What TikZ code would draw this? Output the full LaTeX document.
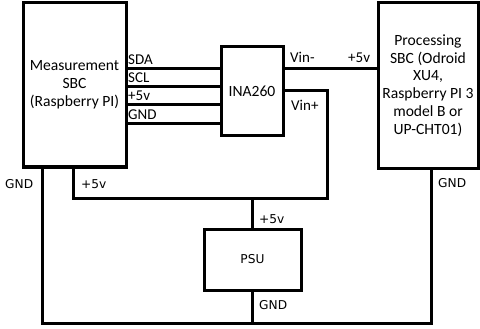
\documentclass[tikz,border=0pt]{standalone}
\usepackage{fontspec}
\setmainfont{Carlito}
\newfontfamily\lblfont{DejaVu Sans}
\begin{document}
\begin{tikzpicture}[x=1pt,y=-1pt,
  box/.style={draw,line width=3pt,align=center,inner sep=0pt,
    font=\fontsize{15.6}{17.8}\selectfont},
  wire/.style={line width=3pt},
  lbl/.style={anchor=base west,inner sep=0pt,font=\fontsize{15}{16}\selectfont},
  blbl/.style={anchor=base west,inner sep=0pt,font=\lblfont\fontsize{12.2}{14}\selectfont}]
\useasboundingbox (0,0) rectangle (480,329);
\node[box,minimum width=103pt,minimum height=164pt] (meas) at (74.5,85) {Measurement\\SBC\\(Raspberry PI)};
\node[box,minimum width=62pt,minimum height=89pt] (ina) at (252,91.5) {INA260};
\node[box,minimum width=100pt,minimum height=165pt] (proc) at (428,85.5) {Processing\\SBC (Odroid\\XU4,\\Raspberry PI 3\\model B or\\UP-CHT01)};
\node[box,minimum width=97pt,minimum height=61pt,font=\lblfont\fontsize{12.2}{14}\selectfont] (psu) at (252.5,259.5) {PSU};
% I2C and power lines
\foreach \yy in {69,87,105,124}{
  \draw[wire] (meas.east |- 0,\yy) -- (ina.west |- 0,\yy);
}
\node[lbl] (lsda) at (128,65) {SDA};
\node[lbl] (lscl) at (128,83) {SCL};
\node[lbl] (l5a) at (128,101) {+5v};
\node[lbl] (lgnda) at (128,120) {GND};
% Vin-
\draw[wire] (ina.east |- 0,69) -- (proc.west |- 0,69);
\node[lbl] (lvinm) at (290,63) {Vin-};
\node[lbl] (l5b) at (348,63) {+5v};
% Vin+ and +5v loop
\coordinate (vr) at (327,198);
\coordinate (vl) at (73,198);
\draw[wire] (ina.east |- 0,91) -| (vr) -- (vl) -- (meas.south -| vl);
\coordinate (pj) at (252.5,198);
\draw[wire] (pj) -- (psu.north);
\node[lbl] (lvinp) at (291,111) {Vin+};
% ground
\coordinate (gl) at (42,323);
\coordinate (gr) at (431,323);
\draw[wire] (meas.south -| gl) -- (gl) -- (gr) -- (proc.south -| gr);
\draw[wire] (psu.south) -- (psu.south |- gl);
% bottom labels
\node[blbl] (lg1) at (5,189) {GND};
\node[blbl] (l5c) at (81,189) {+5v};
\node[blbl] (l5d) at (259,223) {+5v};
\node[blbl] (lg2) at (259,309) {GND};
\node[blbl] (lg3) at (438,187) {GND};
\end{tikzpicture}
\end{document}
